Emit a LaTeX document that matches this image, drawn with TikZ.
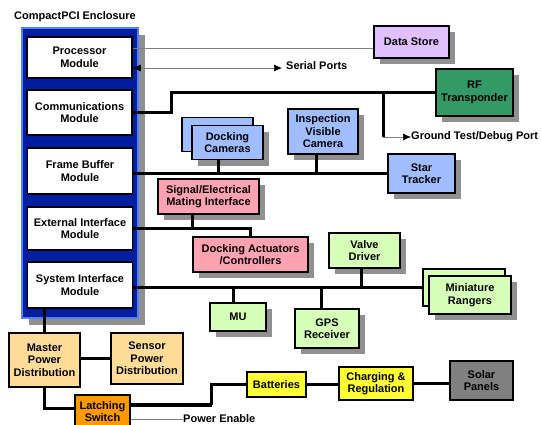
\documentclass[tikz,border=0pt]{standalone}
\usepackage{fontspec}
\setmainfont{Liberation Sans}
\usetikzlibrary{shadows,arrows.meta}
\definecolor{encblue}{RGB}{0,30,160}
\definecolor{encedge}{RGB}{80,130,255}
\definecolor{shadowgray}{RGB}{144,144,144}
\definecolor{storeviolet}{RGB}{224,192,255}
\definecolor{rfgreen}{RGB}{51,153,102}
\definecolor{camblue}{RGB}{160,190,255}
\definecolor{matepink}{RGB}{255,162,178}
\definecolor{drvgreen}{RGB}{214,255,184}
\definecolor{pwrtan}{RGB}{255,221,153}
\definecolor{latchorange}{RGB}{255,153,0}
\definecolor{batyellow}{RGB}{255,255,51}
\definecolor{solargray}{RGB}{128,128,128}
\tikzset{
	blk/.style={draw=black,line width=1.6pt,inner sep=0pt,align=center,
		font=\fontsize{11}{12.5}\selectfont\bfseries},
	shd/.style={drop shadow={shadow xshift=6pt,shadow yshift=-6pt,fill=shadowgray,opacity=1}},
	lbl/.style={inner sep=0pt,font=\fontsize{11}{12.5}\selectfont\bfseries},
	bus/.style={line width=3pt},
	thinline/.style={draw=gray,line width=0.6pt},
	tip/.style={-{Latex[length=8pt,width=7pt,color=black]}}
}
\begin{document}
\begin{tikzpicture}[x=1pt,y=-1pt]
		\useasboundingbox (0,0) rectangle (541,424);
		\node[lbl,anchor=west] (enctitle) at (14,17) {CompactPCI Enclosure};
		\node[draw=encedge,fill=encblue,line width=2pt,minimum width=116pt,minimum height=290pt,
			drop shadow={shadow xshift=7pt,shadow yshift=-7pt,fill=shadowgray,opacity=1}] (encl) at (80,173) {};
		\node[blk,fill=white,minimum width=105pt,minimum height=41pt] (proc) at (79.5,57.5) {Processor\\Module};
		\node[blk,fill=white,minimum width=105pt,minimum height=45pt] (comm) at (79.5,112.5) {Communications\\Module};
		\node[blk,fill=white,minimum width=105pt,minimum height=46pt] (fbuf) at (80,171) {Frame Buffer\\Module};
		\node[blk,fill=white,minimum width=105pt,minimum height=43pt] (extif) at (80,228.5) {External Interface\\Module};
		\node[blk,fill=white,minimum width=105pt,minimum height=46pt] (sysif) at (80,285) {System Interface\\Module};
		\node[blk,shd,fill=storeviolet,minimum width=75pt,minimum height=32pt] (dstore) at (411.5,42) {Data Store};
		\node[blk,shd,fill=rfgreen,minimum width=77pt,minimum height=47pt] (rf) at (474.5,92.5) {RF\\Transponder};
		\node[blk,fill=camblue,minimum width=71pt,minimum height=34pt] (dockb) at (217.5,134.5) {};
		\node[blk,shd,fill=camblue,minimum width=71pt,minimum height=34pt] (dockf) at (227.5,142.5) {Docking\\Cameras};
		\node[blk,shd,fill=camblue,minimum width=70pt,minimum height=45pt] (insp) at (323,131.5) {Inspection\\Visible\\Camera};
		\node[blk,shd,fill=camblue,minimum width=67pt,minimum height=39pt] (star) at (421.5,173.5) {Star\\Tracker};
		\node[blk,shd,fill=matepink,minimum width=101pt,minimum height=35pt] (sigel) at (208.5,196.5) {Signal/Electrical\\Mating Interface};
		\node[blk,shd,fill=matepink,minimum width=115pt,minimum height=35pt] (dact) at (250.5,254.5) {Docking Actuators\\/Controllers};
		\node[blk,shd,fill=drvgreen,minimum width=71pt,minimum height=35pt] (valve) at (364.5,250.5) {Valve\\Driver};
		\node[blk,shd,fill=drvgreen,minimum width=56pt,minimum height=28pt] (mu) at (238,317) {MU};
		\node[blk,shd,fill=drvgreen,minimum width=64pt,minimum height=39pt] (gps) at (327,328.5) {GPS\\Receiver};
		\node[blk,fill=drvgreen,minimum width=82pt,minimum height=37pt] (rangb) at (464,287.5) {};
		\node[blk,shd,fill=drvgreen,minimum width=82pt,minimum height=38pt] (rangf) at (470,295) {Miniature\\Rangers};
		\node[blk,fill=pwrtan,minimum width=71pt,minimum height=54pt] (mpd) at (44.5,360) {Master\\Power\\Distribution};
		\node[blk,fill=pwrtan,minimum width=72pt,minimum height=51pt] (spd) at (147,358.5) {Sensor\\Power\\Distribution};
		\node[blk,fill=latchorange,minimum width=55pt,minimum height=33pt] (latch) at (102.5,411.5) {Latching\\Switch};
		\node[blk,fill=batyellow,minimum width=59pt,minimum height=25pt] (batt) at (276.5,384.5) {Batteries};
		\node[blk,fill=batyellow,minimum width=74pt,minimum height=33pt] (charge) at (376,383.5) {Charging \&\\Regulation};
		\node[blk,fill=solargray,minimum width=63pt,minimum height=39pt] (solar) at (481.5,380.5) {Solar\\Panels};
		\node[lbl,anchor=west] (serial) at (286,66) {Serial Ports};
		\node[lbl,anchor=west] (gndtxt) at (411,137) {Ground Test/Debug Port};
		\node[lbl,anchor=west] (pwren) at (183,419) {Power Enable};
		\coordinate (dsline) at ([yshift=9.5pt]proc.east);
		\coordinate (spend) at (282,68);
		\coordinate (gsplit) at (383,92.5);
		\coordinate (gbend) at (383,137);
		\draw[thinline] (dsline) -- (dsline -| dstore.west);
		\draw[thinline,{Latex[length=8pt,width=7pt,color=black]}-{Latex[length=8pt,width=7pt,color=black]}] (proc.east |- spend) -- (spend);
		\draw[bus] (comm.east) -- ++(39,0) |- (rf.west);
		\draw[bus] (gsplit) -- (gbend);
		\draw[thinline,tip] (gbend) -- (gndtxt.west);
		\draw[bus] (fbuf.east |- star.west) -- (star.west);
		\draw[bus] ([xshift=-9.5pt]dockf.south) -- ([xshift=-9.5pt]dockf.south |- star.west);
		\draw[bus] ([xshift=-7pt]insp.south) -- ([xshift=-7pt]insp.south |- star.west);
		\draw[bus] (extif.east) -| (dact.north);
		\draw[bus] ([xshift=-16pt]sigel.south) -- ([xshift=-16pt]sigel.south |- extif.east);
		\draw[bus] (sysif.east |- rangb.west) -- (rangb.west);
		\draw[bus] ([xshift=-5pt]mu.north) -- ([xshift=-5pt]mu.north |- rangb.west);
		\draw[bus] ([xshift=-3.5pt]valve.south) -- ([xshift=-3.5pt]valve.south |- rangb.west);
		\draw[bus] ([xshift=-6pt]gps.north) -- ([xshift=-6pt]gps.north |- rangb.west);
		\draw[bus] (mpd.north) -- (mpd.north |- sysif.south);
		\draw[bus] (mpd.east |- spd.west) -- (spd.west);
		\draw[bus] (mpd.south) |- ([yshift=3.5pt]latch.west);
		\draw[line width=4.5pt] ([yshift=6.5pt]latch.east) -- ++(81,0);
		\draw[bus] ([yshift=6.5pt]latch.east) ++(81,0) |- (batt.west);
		\draw[bus] (batt.east) -- (batt.east -| charge.west);
		\draw[bus] (charge.east) -- (charge.east -| solar.west);
		\draw[thinline] ([yshift=-7.5pt]latch.east) -- (pwren.west);
\end{tikzpicture}
\end{document}
